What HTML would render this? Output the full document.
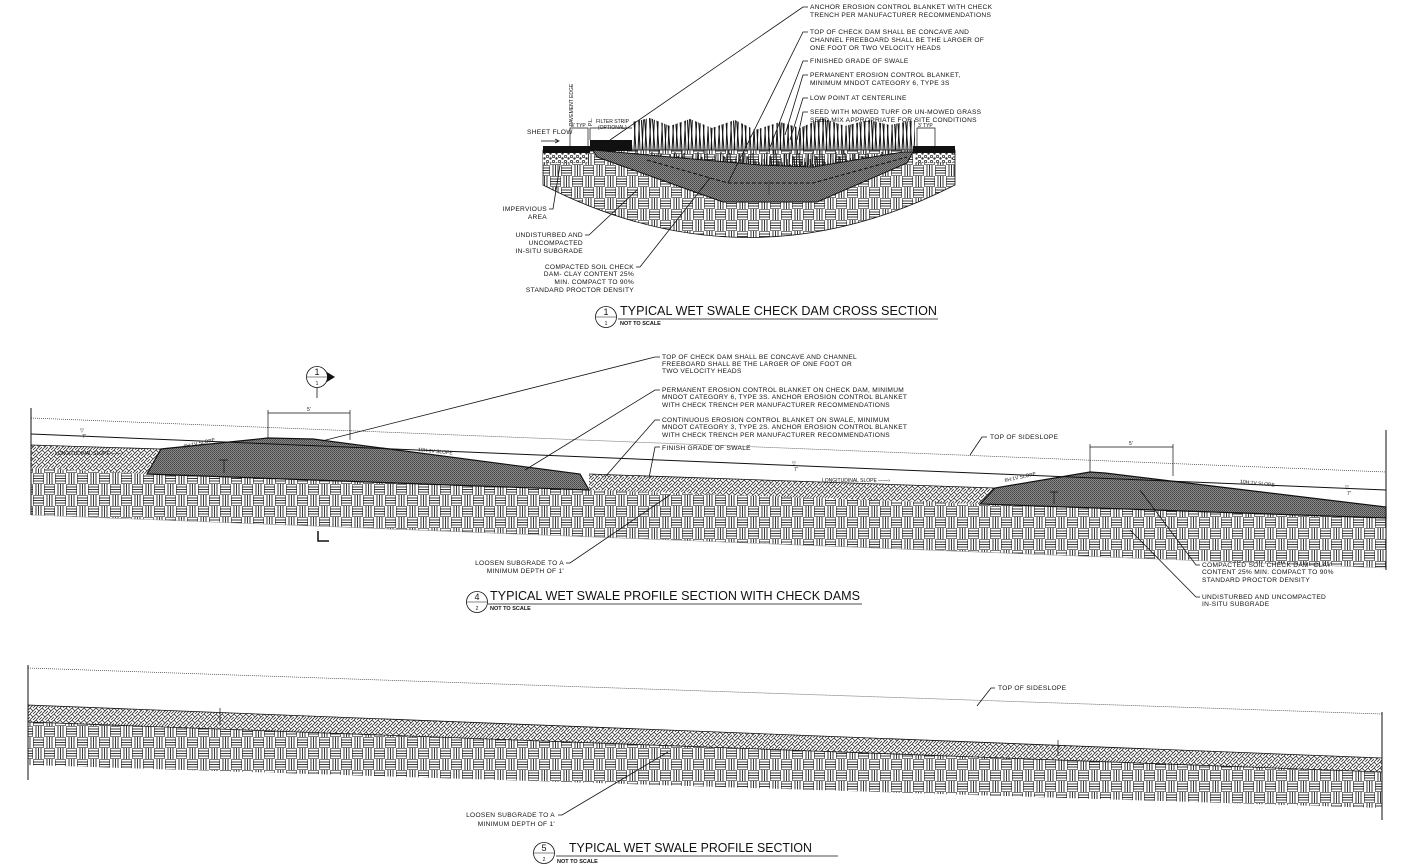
<!DOCTYPE html>
<html><head><meta charset="utf-8"><style>
html,body{margin:0;padding:0;background:#fff;}
svg{display:block;}
text{font-family:"Liberation Sans",sans-serif;fill:#111;}
.s{font-size:6.6px;letter-spacing:0.3px;}
.xs{font-size:5px;}
.t{font-size:13px;}
.n{font-size:5.5px;font-weight:bold;}
</style></head><body>
<svg width="1403" height="867" viewBox="0 0 1403 867" xmlns="http://www.w3.org/2000/svg">
<defs>
<pattern id="soil" width="22" height="22" patternUnits="userSpaceOnUse">
<rect width="22" height="22" fill="#fff"/>
<g stroke="#222" stroke-width="0.9">
<rect x="0.5" y="0.5" width="10" height="10" fill="none" stroke-width="0.6"/>
<rect x="11.5" y="11.5" width="10" height="10" fill="none" stroke-width="0.6"/>
<line x1="0" y1="3" x2="11" y2="3"/><line x1="0" y1="5.5" x2="11" y2="5.5"/><line x1="0" y1="8" x2="11" y2="8"/>
<line x1="14" y1="0" x2="14" y2="11"/><line x1="16.5" y1="0" x2="16.5" y2="11"/><line x1="19" y1="0" x2="19" y2="11"/>
<line x1="3" y1="11" x2="3" y2="22"/><line x1="5.5" y1="11" x2="5.5" y2="22"/><line x1="8" y1="11" x2="8" y2="22"/>
<line x1="11" y1="14" x2="22" y2="14"/><line x1="11" y1="16.5" x2="22" y2="16.5"/><line x1="11" y1="19" x2="22" y2="19"/>
</g></pattern>
<pattern id="hatch" width="6" height="6" patternUnits="userSpaceOnUse">
<rect width="6" height="6" fill="#fff"/>
<g stroke="#333" stroke-width="0.8"><line x1="0" y1="6" x2="6" y2="0"/><line x1="0" y1="0" x2="3" y2="3"/><line x1="3" y1="6" x2="6" y2="3"/></g>
</pattern>
<pattern id="dam" width="2" height="2" patternUnits="userSpaceOnUse">
<rect width="2" height="2" fill="#8a8a8a"/><rect width="1" height="1" fill="#444"/><rect x="1" y="1" width="1" height="1" fill="#555"/>
</pattern>
<pattern id="grass" width="23" height="50" patternUnits="userSpaceOnUse">
<g stroke="#111" stroke-width="1">
<line x1="1" y1="50" x2="3" y2="4"/><line x1="3" y1="50" x2="0" y2="12"/><line x1="5" y1="50" x2="8" y2="2"/>
<line x1="7" y1="50" x2="5" y2="9"/><line x1="9" y1="50" x2="11" y2="6"/><line x1="11" y1="50" x2="8" y2="14"/>
<line x1="13" y1="50" x2="15" y2="0"/><line x1="15" y1="50" x2="12" y2="7"/><line x1="17" y1="50" x2="19" y2="10"/>
<line x1="19" y1="50" x2="17" y2="3"/><line x1="21" y1="50" x2="23" y2="8"/><line x1="22" y1="50" x2="20" y2="12"/>
</g></pattern>
<pattern id="peb" width="6" height="5" patternUnits="userSpaceOnUse">
<rect width="6" height="5" fill="#fff"/><circle cx="1.5" cy="1.5" r="1.2" fill="none" stroke="#111" stroke-width="0.7"/><circle cx="4.5" cy="3.5" r="1.2" fill="#333"/>
</pattern>
</defs>

<!-- ========== SECTION 1 CROSS SECTION ========== -->
<path d="M543,150 L543,185 Q748,290 955,185 L955,150 Z" fill="url(#soil)" stroke="#111" stroke-width="0.8"/>
<rect x="543" y="146" width="47" height="7" fill="#111"/>
<rect x="543" y="153" width="45" height="10" fill="url(#peb)"/>
<rect x="590" y="140" width="42" height="11" fill="#111"/>
<rect x="913" y="146" width="42" height="7" fill="#111"/>
<rect x="915" y="153" width="38" height="10" fill="url(#peb)"/>
<path d="M593,150 L637,154 L760,165 L813,167 L903,152 L913,152 L907,163 L817,202 L723,202 L597,157 Z" fill="url(#dam)" stroke="#111" stroke-width="1"/>
<path d="M632,153 L632,122 L650,118 L670,126 L690,119 L712,128 L735,120 L755,130 L780,122 L800,128 L822,118 L845,126 L868,120 L890,125 L915,120 L915,152 L903,152 L813,167 L760,165 Z" fill="url(#grass)"/>
<path d="M647,160 L728,183 L813,183 L907,157" fill="none" stroke="#111" stroke-width="1" stroke-dasharray="4,2"/>
<line x1="769" y1="180" x2="769" y2="195" stroke="#333" stroke-width="0.6"/>
<path d="M570,146 L570,128 L588,128 L588,146 M917,146 L917,128 L935,128 L935,146 M590,140 L590,128 L632,128" fill="none" stroke="#111" stroke-width="0.7"/>
<text class="xs" x="571" y="127">3' TYP</text><text class="xs" x="918" y="127">3' TYP</text>
<text class="xs" x="596" y="123">FILTER STRIP</text><text class="xs" x="598" y="129">(OPTIONAL)</text>
<text class="xs" transform="translate(573,126) rotate(-90)">PAVEMENT EDGE</text>
<text class="xs" transform="translate(592,126) rotate(-90)">P.L.</text>
<text class="s" x="527" y="134">SHEET FLOW</text>
<path d="M541,141 L559,141 M555,139 L559,141 L555,143" fill="none" stroke="#111" stroke-width="0.7"/>
<g class="s">
<text x="810" y="9">ANCHOR EROSION CONTROL BLANKET WITH CHECK</text>
<text x="810" y="17">TRENCH PER MANUFACTURER RECOMMENDATIONS</text>
<text x="810" y="34">TOP OF CHECK DAM SHALL BE CONCAVE AND</text>
<text x="810" y="42">CHANNEL FREEBOARD SHALL BE THE LARGER OF</text>
<text x="810" y="50">ONE FOOT OR TWO VELOCITY HEADS</text>
<text x="810" y="63">FINISHED GRADE OF SWALE</text>
<text x="810" y="77">PERMANENT EROSION CONTROL BLANKET,</text>
<text x="810" y="85">MINIMUM MNDOT CATEGORY 6, TYPE 3S</text>
<text x="810" y="100">LOW POINT AT CENTERLINE</text>
<text x="810" y="114">SEED WITH MOWED TURF OR UN-MOWED GRASS</text>
<text x="810" y="122">SEED MIX APPROPRIATE FOR SITE CONDITIONS</text>
<text x="547" y="211" text-anchor="end">IMPERVIOUS</text>
<text x="547" y="219" text-anchor="end">AREA</text>
<text x="583" y="237" text-anchor="end">UNDISTURBED AND</text>
<text x="583" y="245" text-anchor="end">UNCOMPACTED</text>
<text x="583" y="253" text-anchor="end">IN-SITU SUBGRADE</text>
<text x="634" y="269" text-anchor="end">COMPACTED SOIL CHECK</text>
<text x="634" y="276" text-anchor="end">DAM- CLAY CONTENT 25%</text>
<text x="634" y="284" text-anchor="end">MIN. COMPACT TO 90%</text>
<text x="634" y="292" text-anchor="end">STANDARD PROCTOR DENSITY</text>
</g>
<g fill="none" stroke="#111" stroke-width="0.8">
<path d="M808,7 L803,7 L610,140"/>
<path d="M808,32 L803,32 L728,183"/>
<path d="M808,61 L803,61 L769,150"/>
<path d="M808,75 L803,75 L785,135"/>
<path d="M808,98 L803,98 L790,140"/>
<path d="M808,112 L803,112 L797,140"/>
<path d="M549,209 L553,209 L560,165"/>
<path d="M585,235 L589,235 L637,190"/>
<path d="M636,267 L640,267 L710,178"/>
</g>
<circle cx="606" cy="317" r="10.5" fill="#fff" stroke="#111" stroke-width="0.8"/>
<line x1="596" y1="317" x2="616" y2="317" stroke="#111" stroke-width="0.6"/>
<text x="606" y="315" font-size="9" text-anchor="middle">1</text>
<text x="606" y="325" font-size="5" text-anchor="middle">1</text>
<text class="t" x="620" y="315" textLength="317" lengthAdjust="spacingAndGlyphs">TYPICAL WET SWALE CHECK DAM CROSS SECTION</text>
<line x1="618" y1="319" x2="938" y2="319" stroke="#111" stroke-width="0.8"/>
<text class="n" x="620" y="325">NOT TO SCALE</text>

<!-- ========== SECTION 4 ========== -->
<polygon points="31,445 161,449 147,474 31,468" fill="url(#hatch)"/>
<polygon points="589,474 995,488 980,504 589,490" fill="url(#hatch)"/>
<polygon points="31,468 147,474 589,490 980,504 1386,518 1386,568 31,515" fill="url(#soil)"/>
<line x1="31" y1="515" x2="1386" y2="568" stroke="#999" stroke-width="0.6"/>
<polygon points="147,474 161,449 268,438 313,439 580,474 589,490" fill="url(#dam)" stroke="#111" stroke-width="1.2"/>
<polygon points="980,504 995,488 1090,472 1105,473 1386,507 1386,518" fill="url(#dam)" stroke="#111" stroke-width="1.2"/>
<line x1="31" y1="445" x2="161" y2="449" stroke="#111" stroke-width="0.8"/>
<line x1="589" y1="474" x2="995" y2="488" stroke="#111" stroke-width="0.8"/>
<line x1="31" y1="418" x2="1386" y2="472" stroke="#333" stroke-width="0.7" stroke-dasharray="1,1"/>
<line x1="31" y1="434" x2="1386" y2="490" stroke="#111" stroke-width="1"/>
<line x1="31" y1="408" x2="31" y2="515" stroke="#111" stroke-width="1"/>
<line x1="1386" y1="430" x2="1386" y2="570" stroke="#111" stroke-width="1"/>
<path d="M268,438 L268,410 M350,440 L350,410 M268,413 L350,413 M1090,472 L1090,444 M1173,476 L1173,444 M1090,447 L1173,447" fill="none" stroke="#111" stroke-width="0.7"/>
<text class="xs" x="307" y="411">5'</text><text class="xs" x="1129" y="445">5'</text>
<path d="M219,460 L228,460 M224,460 L224,473 M1050,492 L1058,492 M1054,492 L1054,504" stroke="#111" stroke-width="0.7" fill="none"/>
<g class="xs">
<text x="80" y="432">▽</text><text x="82" y="438">7'</text>
<text x="792" y="465">▽</text><text x="794" y="471">7'</text>
<text x="1345" y="489">▽</text><text x="1347" y="495">7'</text>
<text x="55" y="455">LONGITUDINAL SLOPE ——›</text>
<text x="822" y="482">LONGITUDINAL SLOPE ——›</text>
<text transform="translate(184,448) rotate(-12)">6H:1V SLOPE</text>
<text transform="translate(418,451) rotate(6)">10H:1V SLOPE</text>
<text transform="translate(1005,482) rotate(-12)">6H:1V SLOPE</text>
<text transform="translate(1240,483) rotate(6)">10H:1V SLOPE</text>
</g>
<path d="M317,366 L335,377 L317,388 Z" fill="#111"/>
<circle cx="317" cy="377" r="10.5" fill="#fff" stroke="#111" stroke-width="0.8"/>
<line x1="307" y1="377" x2="327" y2="377" stroke="#111" stroke-width="0.6"/>
<text x="317" y="375" font-size="9" text-anchor="middle">1</text>
<text x="317" y="385" font-size="5" text-anchor="middle">1</text>
<line x1="317" y1="388" x2="317" y2="398" stroke="#111" stroke-width="0.8"/>
<path d="M318,531 L318,541 L329,541" fill="none" stroke="#111" stroke-width="1.5"/>
<g class="s">
<text x="662" y="359">TOP OF CHECK DAM SHALL BE CONCAVE AND CHANNEL</text>
<text x="662" y="366">FREEBOARD SHALL BE THE LARGER OF ONE FOOT OR</text>
<text x="662" y="373">TWO VELOCITY HEADS</text>
<text x="662" y="392">PERMANENT EROSION CONTROL BLANKET ON CHECK DAM, MINIMUM</text>
<text x="662" y="399">MNDOT CATEGORY 6, TYPE 3S. ANCHOR EROSION CONTROL BLANKET</text>
<text x="662" y="407">WITH CHECK TRENCH PER MANUFACTURER RECOMMENDATIONS</text>
<text x="662" y="422">CONTINUOUS EROSION CONTROL BLANKET ON SWALE, MINIMUM</text>
<text x="662" y="429">MNDOT CATEGORY 3, TYPE 2S. ANCHOR EROSION CONTROL BLANKET</text>
<text x="662" y="437">WITH CHECK TRENCH PER MANUFACTURER RECOMMENDATIONS</text>
<text x="662" y="450">FINISH GRADE OF SWALE</text>
<text x="990" y="439">TOP OF SIDESLOPE</text>
<text x="564" y="565" text-anchor="end">LOOSEN SUBGRADE TO A</text>
<text x="564" y="573" text-anchor="end">MINIMUM DEPTH OF 1'</text>
<text x="1202" y="567">COMPACTED SOIL CHECK DAM- CLAY</text>
<text x="1202" y="574">CONTENT 25% MIN. COMPACT TO 90%</text>
<text x="1202" y="582">STANDARD PROCTOR DENSITY</text>
<text x="1202" y="599">UNDISTURBED AND UNCOMPACTED</text>
<text x="1202" y="606">IN-SITU SUBGRADE</text>
</g>
<g fill="none" stroke="#111" stroke-width="0.8">
<path d="M660,357 L655,357 L322,441"/>
<path d="M660,390 L655,390 L525,470"/>
<path d="M660,420 L655,420 L605,477"/>
<path d="M660,447 L655,447 L649,478"/>
<path d="M987,437 L982,437 L970,455"/>
<path d="M566,563 L570,563 L670,495"/>
<path d="M1200,565 L1196,565 L1140,490"/>
<path d="M1200,597 L1196,597 L1130,530"/>
</g>
<circle cx="477" cy="602" r="10.5" fill="#fff" stroke="#111" stroke-width="0.8"/>
<line x1="467" y1="602" x2="487" y2="602" stroke="#111" stroke-width="0.6"/>
<text x="477" y="600" font-size="9" text-anchor="middle">4</text>
<text x="477" y="610" font-size="5" text-anchor="middle">2</text>
<text class="t" x="490" y="600" textLength="370" lengthAdjust="spacingAndGlyphs">TYPICAL WET SWALE PROFILE SECTION WITH CHECK DAMS</text>
<line x1="488" y1="604" x2="862" y2="604" stroke="#111" stroke-width="0.8"/>
<text class="n" x="490" y="610">NOT TO SCALE</text>

<!-- ========== SECTION 5 ========== -->
<polygon points="28,722 1382,772 1382,808 28,765" fill="url(#soil)"/>
<polygon points="28,705 1382,758 1382,772 28,722" fill="url(#hatch)" stroke="#111" stroke-width="0.8"/>
<line x1="28" y1="668" x2="1382" y2="714" stroke="#333" stroke-width="0.7" stroke-dasharray="1,1"/>
<line x1="28" y1="665" x2="28" y2="780" stroke="#111" stroke-width="1"/>
<line x1="1382" y1="712" x2="1382" y2="820" stroke="#111" stroke-width="1"/>
<path d="M220,708 L220,725 M1058,740 L1058,756" stroke="#111" stroke-width="0.7"/>
<g class="s">
<text x="998" y="690">TOP OF SIDESLOPE</text>
<text x="555" y="817" text-anchor="end">LOOSEN SUBGRADE TO A</text>
<text x="555" y="826" text-anchor="end">MINIMUM DEPTH OF 1'</text>
</g>
<g fill="none" stroke="#111" stroke-width="0.8">
<path d="M995,688 L991,688 L977,706"/>
<path d="M558,815 L562,815 L668,752"/>
</g>
<circle cx="544" cy="853" r="10.5" fill="#fff" stroke="#111" stroke-width="0.8"/>
<line x1="534" y1="853" x2="554" y2="853" stroke="#111" stroke-width="0.6"/>
<text x="544" y="851" font-size="9" text-anchor="middle">5</text>
<text x="544" y="861" font-size="5" text-anchor="middle">2</text>
<text class="t" x="569" y="852" textLength="243" lengthAdjust="spacingAndGlyphs">TYPICAL WET SWALE PROFILE SECTION</text>
<line x1="556" y1="856" x2="838" y2="856" stroke="#111" stroke-width="0.8"/>
<text class="n" x="557" y="863">NOT TO SCALE</text>
</svg>
</body></html>
